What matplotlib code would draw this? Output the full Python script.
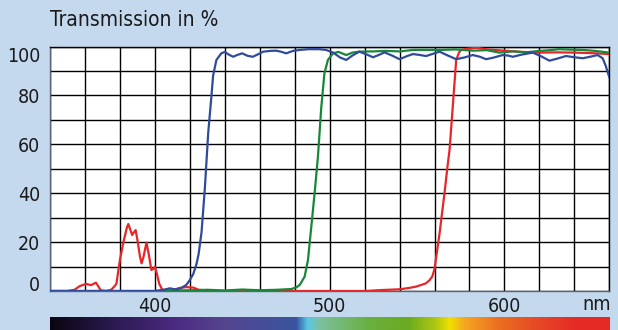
import numpy as np
import matplotlib
matplotlib.use('Agg')
import matplotlib.pyplot as plt
from matplotlib.colors import LinearSegmentedColormap

plt.rcParams['font.family'] = ['DejaVu Sans']
plt.rcParams['font.stretch'] = 'condensed'

# Kurven (Wellenlaenge in nm, Transmission in %)
rot_nm = [340, 350, 354, 357, 360.6, 363.5, 366.3, 368, 369, 372, 375, 377, 378, 380, 382, 384,
          384.8, 386, 387, 388, 389, 390, 391.5, 392.4, 393.5, 395.2, 396.5, 398, 399, 400, 401,
          402.5, 404, 406, 410, 414, 418, 422, 425, 430, 440, 460, 480, 500, 520, 530, 540, 545,
          549.5, 555, 557, 558.7, 560, 562.9, 565.7, 567.6, 568.6, 570.5, 572.4, 574, 575.2, 578,
          583.8, 590, 600, 610, 620, 630, 640, 650, 660]
rot_t = [0, 0, 0.5, 2, 2.9, 2.4, 3.4, 1.5, 0.3, 0, 0.5, 2, 3, 12.7, 20, 26,
         27.4, 25, 22.9, 24, 24.9, 21, 14, 11.3, 14, 19.8, 15, 8.6, 9, 9.9, 7.5,
         3, 0.8, 0, 0.3, 1.2, 1.6, 1.4, 0.5, 0.2, 0, 0.2, 0, 0, 0, 0.4, 0.7, 1.2,
         1.8, 3.1, 4.3, 5.9, 9, 23.6, 40, 52, 57.7, 76, 94.5, 97.5, 98.6, 99,
         99.5, 98.8, 98.3, 97.8, 97.5, 97.6, 97.5, 97.3, 96.9]

gruen_nm = [340, 400, 410, 420, 430, 440, 450, 460, 470, 478, 481, 482.9, 485.7, 487.6, 489.5,
            491.4, 493.3, 495.2, 497, 499, 501.9, 505, 509.5, 513, 517, 525, 532, 540, 548, 556,
            564, 572, 581.9, 590, 597, 605, 612, 620, 626, 631.4, 638, 644.8, 652, 660]
gruen_t = [0, 0, 0.2, 0.3, 0.5, 0.2, 0.6, 0.3, 0.5, 0.8, 1.5, 2.5, 5.9, 12.7, 26.3,
           40, 55, 75, 89, 94.5, 97.2, 97.8, 96.5, 97.5, 97.9, 98, 98.2, 98, 98.6, 98.6,
           98.6, 98.8, 98.3, 98.5, 97.5, 98, 97.6, 98.2, 98.5, 98.9, 98.7, 98.6, 98.2, 97.5]

blau_nm = [340, 380, 400, 405, 408.6, 412, 415, 418, 420, 422, 423.8, 425, 426.7, 428.6, 430.5,
           432.4, 433.3, 435.2, 438, 440, 442, 444.8, 447, 450, 453, 456, 459, 462, 466, 469.5,
           472, 475.2, 479, 483, 488, 494, 498, 502, 506, 509.5, 513, 517, 521, 524.8, 528, 531.4,
           536, 540, 544, 547.6, 551, 555.2, 559, 562.9, 567, 572.4, 577, 581.9, 586, 589.5, 594,
           599, 602, 604.8, 610, 616.2, 621, 625.7, 630, 635.2, 640, 644.8, 649, 653.3, 656.2,
           658, 659.6, 660]
blau_t = [0, 0, 0, 0.5, 1.1, 0.6, 1.2, 2.5, 4.5, 7, 11, 15, 24, 42, 64.5,
          80, 88, 94.5, 97.2, 97.8, 96.8, 95.8, 96.5, 97.2, 96.2, 95.8, 96.8, 97.9, 98.2, 98.3,
          97.9, 97.2, 98.2, 98.6, 98.9, 98.9, 98.6, 97.5, 95.5, 94.5, 96.3, 97.9, 96.8, 95.6, 96.5, 97.6,
          96.2, 94.8, 96, 96.9, 96.6, 96.1, 97, 97.9, 96.5, 94.8, 95.5, 96.5, 95.8, 94.8, 95.5,
          96.5, 96.3, 95.8, 96.7, 97.5, 96, 94.2, 95, 96.1, 95.6, 95.2, 95.8, 96.5, 95.2,
          92, 88.3, 87.5]

y_ticks = [0, 20, 40, 60, 80, 100]
x_ticks = [400, 500, 600]

hintergrund = '#c4d9ee'

fig = plt.figure(figsize=(6.18, 3.30), dpi=100, facecolor=hintergrund)
ax = fig.add_axes([50 / 618, 39 / 330, 559.3 / 618, 244.5 / 330])
ax.set_facecolor('white')

ax.plot(rot_nm, rot_t, color='#e8262a', lw=1.6, zorder=3)
ax.plot(gruen_nm, gruen_t, color='#17873a', lw=1.6, zorder=4)
ax.plot(blau_nm, blau_t, color='#2f4b9c', lw=1.6, zorder=5)

ax.set_xlim(340, 660)
ax.set_ylim(0, 100)
ax.set_xticks(x_ticks)
ax.set_yticks(y_ticks)
ax.set_xticks(np.arange(340, 661, 20), minor=True)
ax.set_yticks(np.arange(0, 101, 10), minor=True)
# Nebenstriche auch an den Hauptstrichen behalten
ax.xaxis.remove_overlapping_locs = False
ax.yaxis.remove_overlapping_locs = False
ax.grid(which='minor', color='black', lw=1.0)
ax.set_axisbelow(True)

ax.tick_params(which='both', length=0, labelsize=14, colors='#1a1a1a')
ax.tick_params(axis='x', pad=4)
ax.tick_params(axis='y', pad=7)
lbls = ax.get_yticklabels()
lbls[0].set_va('baseline')
lbls[-1].set_va('top')

for s in ['top', 'right']:
    ax.spines[s].set_color('black')
    ax.spines[s].set_linewidth(1.0)
for s in ['left', 'bottom']:
    ax.spines[s].set_color('#5a6478')
    ax.spines[s].set_linewidth(1.0)

fig.text(596.7 / 618, 1 - 305 / 330, 'nm', fontsize=14, ha='center', va='center', color='#1a1a1a')
fig.text(50 / 618, 1 - 20 / 330, 'Transmission in %', fontsize=15, ha='left', va='center', color='#1a1a1a')

# Spektrum-Balken
spektrum = LinearSegmentedColormap.from_list('spektrum', [
    (0.0, '#0a0510'), (0.11, '#2a1a50'), (0.22, '#4a2a80'), (0.31, '#56448f'),
    (0.44, '#3a55a0'), (0.46, '#5ac8e8'), (0.48, '#7cc0a0'), (0.57, '#6ab040'),
    (0.64, '#6aaa20'), (0.69, '#b0c810'), (0.715, '#f0e000'), (0.74, '#f5a820'),
    (0.80, '#ec7020'), (0.87, '#e54a25'), (0.94, '#e52a25'), (1.0, '#e52a25')])
bx = fig.add_axes([50 / 618, 0, 559.3 / 618, 13.3 / 330])
bx.imshow(np.linspace(0, 1, 512)[None, :], aspect='auto', cmap=spektrum, extent=[340, 660, 0, 1])
bx.axis('off')

fig.savefig('out.png', dpi=100, facecolor=hintergrund)
